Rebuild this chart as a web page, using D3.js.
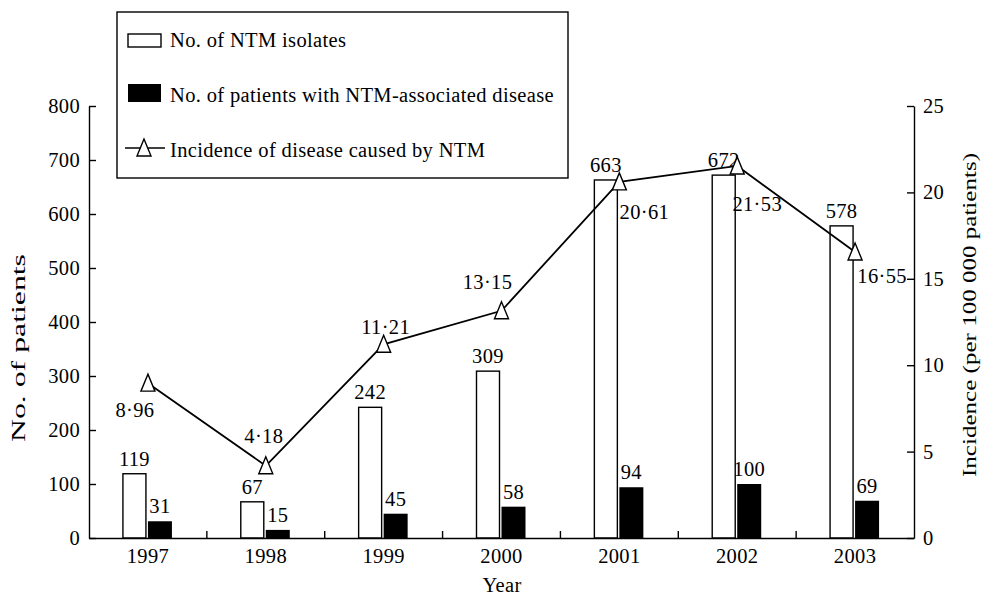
<!DOCTYPE html>
<html>
<head>
<meta charset="utf-8">
<script src="https://cdn.jsdelivr.net/npm/d3@7"></script>
<style>
  html, body { margin: 0; padding: 0; background: #fff; }
  svg text { fill: #000; letter-spacing: 0.35px; font-family: "Liberation Serif", "Tinos", "Times New Roman", "DejaVu Serif", serif !important; }
  svg text.title { letter-spacing: 0; }
</style>
</head>
<body>
<svg id="chart" width="982" height="596"></svg>
<script>
// ---- data ----
const years = ["1997", "1998", "1999", "2000", "2001", "2002", "2003"];
const isolates = [119, 67, 242, 309, 663, 672, 578];
const patients = [31, 15, 45, 58, 94, 100, 69];
const incidence = [8.96, 4.18, 11.21, 13.15, 20.61, 21.53, 16.55];
const leftTicks = [0, 100, 200, 300, 400, 500, 600, 700, 800];
const rightTicks = [0, 5, 10, 15, 20, 25];
const legendLabels = ["No. of NTM isolates", "No. of patients with NTM-associated disease", "Incidence of disease caused by NTM"];

// ---- layout ----
const FS = 20.5;
const svg = d3.select("#chart");
const x0 = 89, x1 = 914, yTop = 106, yBot = 538;

const x = d3.scaleBand().domain(years).range([x0, x1]).padding(0);
const yL = d3.scaleLinear().domain([0, 800]).range([yBot, yTop]);
const yR = d3.scaleLinear().domain([0, 25]).range([yBot, yTop]);
const cx = d => x(d) + x.bandwidth() / 2;

// incidence label offsets (dx center, dy baseline) relative to point
const incDx = [-13, -2, 2, -14, 25, 20, 27];
const incDy = [34, -23, -10, -22, 37, 45, 31];

// bars
const g = svg.append("g");
g.selectAll("rect.iso").data(years).join("rect")
  .attr("class", "iso")
  .attr("x", (d) => cx(d) - 25)
  .attr("width", 23)
  .attr("y", (d, i) => yL(isolates[i]))
  .attr("height", (d, i) => yBot - yL(isolates[i]))
  .attr("fill", "#fff").attr("stroke", "#000").attr("stroke-width", 1.4);

g.selectAll("rect.pat").data(years).join("rect")
  .attr("class", "pat")
  .attr("x", (d) => cx(d))
  .attr("width", 24)
  .attr("y", (d, i) => yL(patients[i]))
  .attr("height", (d, i) => yBot - yL(patients[i]))
  .attr("fill", "#000");

// bar labels
g.selectAll("text.isoL").data(years).join("text")
  .attr("class", "isoL")
  .attr("x", d => cx(d) - 13.5)
  .attr("y", (d, i) => yL(isolates[i]) - 8)
  .attr("text-anchor", "middle").attr("font-size", FS)
  .text((d, i) => isolates[i]);

g.selectAll("text.patL").data(years).join("text")
  .attr("class", "patL")
  .attr("x", d => cx(d) + 12)
  .attr("y", (d, i) => yL(patients[i]) - 8)
  .attr("text-anchor", "middle").attr("font-size", FS)
  .text((d, i) => patients[i]);

// axes
const axL = d3.axisLeft(yL).tickValues(leftTicks).tickSizeInner(-7).tickSizeOuter(0).tickPadding(9);
const axR = d3.axisRight(yR).tickValues(rightTicks).tickSizeInner(-7).tickSizeOuter(0).tickPadding(9);
const axB = d3.axisBottom(x).tickSize(0).tickPadding(10);

function styleAxis(sel) {
  sel.attr("font-family", null);
  sel.select(".domain").attr("stroke", "#000").attr("stroke-width", 1.4);
  sel.selectAll(".tick line").attr("stroke", "#000").attr("stroke-width", 1.4);
  sel.selectAll("text").attr("font-size", FS).attr("fill", "#000");
}
svg.append("g").attr("transform", `translate(${x0},0)`).call(axL).call(styleAxis);
svg.append("g").attr("transform", `translate(${x1},0)`).call(axR).call(styleAxis);
svg.append("g").attr("transform", `translate(0,${yBot})`).call(axB).call(styleAxis);

// boundary ticks on x axis
svg.append("g").selectAll("line").data(years.slice(1)).join("line")
  .attr("x1", d => x(d)).attr("x2", d => x(d))
  .attr("y1", yBot).attr("y2", yBot - 7)
  .attr("stroke", "#000").attr("stroke-width", 1.4);

// incidence line
const line = d3.line().x((d, i) => cx(years[i])).y(d => yR(d));
svg.append("path").datum(incidence)
  .attr("d", line).attr("fill", "none").attr("stroke", "#000").attr("stroke-width", 1.8);

const tri = (px, py) => `M${px},${py - 9}L${px - 7},${py + 8}L${px + 7},${py + 8}Z`;
svg.append("g").selectAll("path").data(incidence).join("path")
  .attr("d", (d, i) => tri(cx(years[i]), yR(d)))
  .attr("fill", "#fff").attr("stroke", "#000").attr("stroke-width", 1.4);

const fmt = d3.format(".2f");
svg.append("g").selectAll("text").data(incidence).join("text")
  .attr("x", (d, i) => cx(years[i]) + incDx[i])
  .attr("y", (d, i) => yR(d) + incDy[i])
  .attr("text-anchor", "middle").attr("font-size", FS)
  .text(d => fmt(d).replace(".", "\u00B7"));

// axis titles
svg.append("text").attr("class", "title").attr("transform", "translate(25,348) rotate(-90)")
  .attr("text-anchor", "middle").attr("font-size", 19)
  .attr("textLength", 188).attr("lengthAdjust", "spacingAndGlyphs")
  .text("No. of patients");
svg.append("text").attr("class", "title").attr("transform", "translate(976,315) rotate(-90)")
  .attr("text-anchor", "middle").attr("font-size", 19)
  .attr("textLength", 324).attr("lengthAdjust", "spacingAndGlyphs")
  .text("Incidence (per 100 000 patients)");
svg.append("text").attr("x", 502).attr("y", 592)
  .attr("text-anchor", "middle").attr("font-size", FS).text("Year");

// legend
const lg = svg.append("g");
lg.append("rect").attr("x", 117).attr("y", 12).attr("width", 451).attr("height", 166)
  .attr("fill", "#fff").attr("stroke", "#000").attr("stroke-width", 1.4);
lg.append("rect").attr("x", 128).attr("y", 34).attr("width", 33).attr("height", 13)
  .attr("fill", "#fff").attr("stroke", "#000").attr("stroke-width", 1.4);
lg.append("rect").attr("x", 128).attr("y", 84).attr("width", 33).attr("height", 18)
  .attr("fill", "#000");
lg.append("line").attr("x1", 125).attr("x2", 165).attr("y1", 148).attr("y2", 148)
  .attr("stroke", "#000").attr("stroke-width", 1.4);
lg.append("path").attr("d", tri(144, 148)).attr("fill", "#fff").attr("stroke", "#000").attr("stroke-width", 1.4);
const lgY = [47, 102, 157];
lg.selectAll("text").data(legendLabels).join("text")
  .attr("x", 170).attr("y", (d, i) => lgY[i]).attr("font-size", FS).text(d => d);
</script>
</body>
</html>
